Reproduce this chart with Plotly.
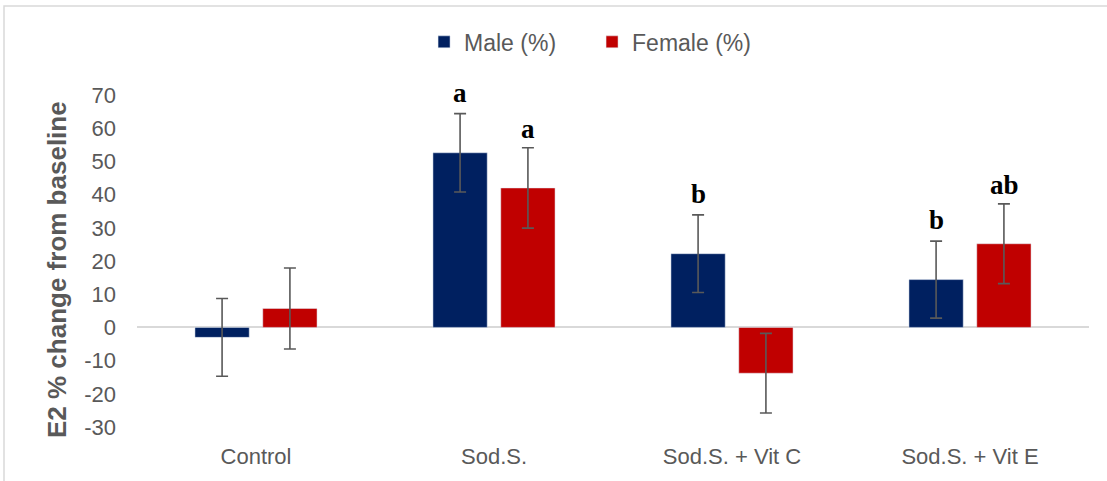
import plotly.graph_objects as go

categories = ["Control", "Sod.S.", "Sod.S. + Vit C", "Sod.S. + Vit E"]
male_values = [-3.0, 52.6, 22.2, 14.4]
female_values = [5.7, 42.0, -13.8, 25.2]
male_err = [11.7, 11.8, 11.7, 11.6]
female_err = [12.2, 12.1, 12.0, 12.0]
male_letters = ["", "a", "b", "b"]
female_letters = ["", "a", "", "ab"]
y_ticks = list(range(-30, 71, 10))
y_tick_labels = [str(v) for v in y_ticks]

FONT = "Arial, Liberation Sans, sans-serif"
GRAY = "#595959"
LETTER_FONT = dict(family="Liberation Serif, DejaVu Serif, serif", size=27,
                   color="#000000", weight="bold")

fig = go.Figure()
fig.add_trace(go.Bar(
    name="Male (%)", x=categories, y=male_values,
    marker=dict(color="#002060"),
    error_y=dict(type="data", array=male_err, color=GRAY, thickness=1.6, width=6),
))
fig.add_trace(go.Bar(
    name="Female (%)", x=categories, y=female_values,
    marker=dict(color="#C00000"),
    error_y=dict(type="data", array=female_err, color=GRAY, thickness=1.6, width=6),
))

annotations = []
for cat, v, e, t in zip(categories, male_values, male_err, male_letters):
    if t:
        annotations.append(dict(x=cat, y=v + e, text=t, showarrow=False, xshift=-34,
                                yanchor="bottom", yshift=4, font=LETTER_FONT))
for cat, v, e, t in zip(categories, female_values, female_err, female_letters):
    if t:
        annotations.append(dict(x=cat, y=v + e, text=t, showarrow=False, xshift=34,
                                yanchor="bottom", yshift=2, font=LETTER_FONT))

annotations.append(dict(xref="paper", yref="paper", x=-0.084, y=0.473,
                        text="E2 % change from baseline", textangle=-90,
                        showarrow=False, xanchor="center", yanchor="middle",
                        font=dict(size=26, color=GRAY, weight="bold", family=FONT)))

fig.update_layout(
    width=1107, height=481,
    margin=dict(l=137, r=18, t=95, b=54),
    paper_bgcolor="white", plot_bgcolor="white",
    barmode="group", bargap=0.43, bargroupgap=0.2,
    font=dict(family=FONT, color=GRAY, size=22),
    legend=dict(orientation="h", x=0.478, xanchor="center", y=1.16, yanchor="middle",
                font=dict(size=23, color=GRAY), itemwidth=30, traceorder="normal",
                entrywidth=123, entrywidthmode="pixels"),
    annotations=annotations,
    shapes=[dict(type="rect", xref="paper", yref="paper",
                 x0=-0.1397, x1=1.05, y0=-0.3, y1=1.268,
                 line=dict(color="#d9d9d9", width=1.5), layer="below")],
    xaxis=dict(showgrid=False, showline=False, ticks="", ticklabelstandoff=14,
               tickfont=dict(size=22, color=GRAY)),
    yaxis=dict(range=[-30, 70], tickvals=y_ticks, ticktext=y_tick_labels,
               showgrid=False, showline=False,
               zeroline=True, zerolinecolor="#d9d9d9", zerolinewidth=1.5,
               ticks="", ticklabelstandoff=20, tickfont=dict(size=22, color=GRAY)),
)

fig.write_html("out.html", config={"displayModeBar": False},
               post_script="document.body.style.margin='0';")
